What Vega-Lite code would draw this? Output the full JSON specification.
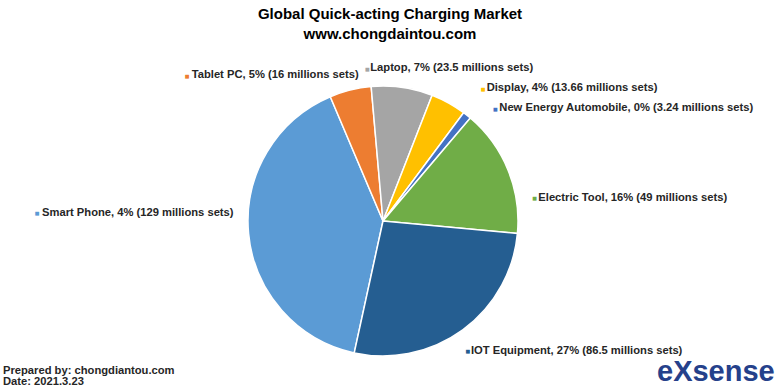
{
  "$schema": "https://vega.github.io/schema/vega-lite/v6.json",
  "autosize": {"type": "none"},
  "width": 766,
  "height": 338,
  "padding": {"top": 52, "left": 0, "right": 14, "bottom": 0},
  "background": "white",
  "config": {"view": {"stroke": null}},
  "title": {
    "text": ["Global Quick-acting Charging Market", "www.chongdaintou.com"],
    "font": "Liberation Sans",
    "fontSize": 15,
    "fontWeight": "bold",
    "color": "#000000",
    "lineHeight": 19.3,
    "anchor": "middle",
    "dx": 7,
    "offset": 8
  },
  "datasets": {
    "market": [
      {"name": "Smart Phone", "value": 129, "idx": 1, "label": "Smart Phone, 4% (129 millions sets)"},
      {"name": "Tablet PC", "value": 16, "idx": 2, "label": "Tablet PC, 5% (16 millions sets)"},
      {"name": "Laptop", "value": 23.5, "idx": 3, "label": "Laptop, 7% (23.5 millions sets)"},
      {"name": "Display", "value": 13.66, "idx": 4, "label": "Display, 4% (13.66 millions sets)"},
      {"name": "New Energy Automobile", "value": 3.24, "idx": 5, "label": "New Energy Automobile, 0% (3.24 millions sets)"},
      {"name": "Electric Tool", "value": 49, "idx": 6, "label": "Electric Tool, 16% (49 millions sets)"},
      {"name": "IOT Equipment", "value": 86.5, "idx": 7, "label": "IOT Equipment, 27% (86.5 millions sets)"}
    ]
  },
  "layer": [
    {
      "data": {"name": "market"},
      "mark": {"type": "arc", "outerRadius": 135, "stroke": "white", "strokeWidth": 1.5},
      "encoding": {
        "theta": {"field": "value", "type": "quantitative", "stack": true, "scale": {"range": [3.3563, 9.6395]}},
        "order": {"field": "idx", "type": "quantitative"},
        "color": {"field": "name", "type": "nominal", "legend": null,
          "scale": {"domain": ["Smart Phone", "Tablet PC", "Laptop", "Display", "New Energy Automobile", "Electric Tool", "IOT Equipment"],
                    "range": ["#5B9BD5", "#ED7D31", "#A5A5A5", "#FFC000", "#4472C4", "#70AD47", "#255E91"]}}
      }
    },
    {
      "data": {"name": "market"},
      "mark": {"type": "text", "radius": 145, "align": "left", "baseline": "middle", "dx": -196.6, "dy": -21.8, "font": "Liberation Sans", "fontSize": 11.2, "fontWeight": "bold", "fill": "#262626"},
      "encoding": {
        "theta": {"field": "value", "type": "quantitative", "stack": true},
        "order": {"field": "idx", "type": "quantitative"},
        "text": {"condition": {"test": "datum.name === 'Smart Phone'", "field": "label"}, "value": ""}
      }
    },
    {
      "data": {"name": "market"},
      "mark": {"type": "text", "radius": 145, "align": "left", "baseline": "middle", "dx": -156.2, "dy": -5.3, "font": "Liberation Sans", "fontSize": 11.2, "fontWeight": "bold", "fill": "#262626"},
      "encoding": {
        "theta": {"field": "value", "type": "quantitative", "stack": true},
        "order": {"field": "idx", "type": "quantitative"},
        "text": {"condition": {"test": "datum.name === 'Tablet PC'", "field": "label"}, "value": ""}
      }
    },
    {
      "data": {"name": "market"},
      "mark": {"type": "text", "radius": 145, "align": "left", "baseline": "middle", "dx": -33.3, "dy": -9.2, "font": "Liberation Sans", "fontSize": 11.2, "fontWeight": "bold", "fill": "#262626"},
      "encoding": {
        "theta": {"field": "value", "type": "quantitative", "stack": true},
        "order": {"field": "idx", "type": "quantitative"},
        "text": {"condition": {"test": "datum.name === 'Laptop'", "field": "label"}, "value": ""}
      }
    },
    {
      "data": {"name": "market"},
      "mark": {"type": "text", "radius": 145, "align": "left", "baseline": "middle", "dx": 33.4, "dy": -5.9, "font": "Liberation Sans", "fontSize": 11.2, "fontWeight": "bold", "fill": "#262626"},
      "encoding": {
        "theta": {"field": "value", "type": "quantitative", "stack": true},
        "order": {"field": "idx", "type": "quantitative"},
        "text": {"condition": {"test": "datum.name === 'Display'", "field": "label"}, "value": ""}
      }
    },
    {
      "data": {"name": "market"},
      "mark": {"type": "text", "radius": 145, "align": "left", "baseline": "middle", "dx": 26.1, "dy": 0.8, "font": "Liberation Sans", "fontSize": 11.2, "fontWeight": "bold", "fill": "#262626"},
      "encoding": {
        "theta": {"field": "value", "type": "quantitative", "stack": true},
        "order": {"field": "idx", "type": "quantitative"},
        "text": {"condition": {"test": "datum.name === 'New Energy Automobile'", "field": "label"}, "value": ""}
      }
    },
    {
      "data": {"name": "market"},
      "mark": {"type": "text", "radius": 145, "align": "left", "baseline": "middle", "dx": 21.1, "dy": 31.5, "font": "Liberation Sans", "fontSize": 11.2, "fontWeight": "bold", "fill": "#262626"},
      "encoding": {
        "theta": {"field": "value", "type": "quantitative", "stack": true},
        "order": {"field": "idx", "type": "quantitative"},
        "text": {"condition": {"test": "datum.name === 'Electric Tool'", "field": "label"}, "value": ""}
      }
    },
    {
      "data": {"name": "market"},
      "mark": {"type": "text", "radius": 145, "align": "left", "baseline": "middle", "dx": 2.3, "dy": 12.7, "font": "Liberation Sans", "fontSize": 11.2, "fontWeight": "bold", "fill": "#262626"},
      "encoding": {
        "theta": {"field": "value", "type": "quantitative", "stack": true},
        "order": {"field": "idx", "type": "quantitative"},
        "text": {"condition": {"test": "datum.name === 'IOT Equipment'", "field": "label"}, "value": ""}
      }
    },
    {
      "data": {"name": "market"},
      "mark": {"type": "text", "radius": 145, "align": "center", "baseline": "middle", "dx": -201.6, "dy": -21.1, "font": "DejaVu Sans", "fontSize": 5},
      "encoding": {
        "theta": {"field": "value", "type": "quantitative", "stack": true},
        "order": {"field": "idx", "type": "quantitative"},
        "color": {"field": "name", "type": "nominal", "legend": null},
        "text": {"condition": {"test": "datum.name === 'Smart Phone'", "value": "■"}, "value": ""}
      }
    },
    {
      "data": {"name": "market"},
      "mark": {"type": "text", "radius": 145, "align": "center", "baseline": "middle", "dx": -160.9, "dy": -4.6, "font": "DejaVu Sans", "fontSize": 5},
      "encoding": {
        "theta": {"field": "value", "type": "quantitative", "stack": true},
        "order": {"field": "idx", "type": "quantitative"},
        "color": {"field": "name", "type": "nominal", "legend": null},
        "text": {"condition": {"test": "datum.name === 'Tablet PC'", "value": "■"}, "value": ""}
      }
    },
    {
      "data": {"name": "market"},
      "mark": {"type": "text", "radius": 145, "align": "center", "baseline": "middle", "dx": -36.3, "dy": -8.5, "font": "DejaVu Sans", "fontSize": 5},
      "encoding": {
        "theta": {"field": "value", "type": "quantitative", "stack": true},
        "order": {"field": "idx", "type": "quantitative"},
        "color": {"field": "name", "type": "nominal", "legend": null},
        "text": {"condition": {"test": "datum.name === 'Laptop'", "value": "■"}, "value": ""}
      }
    },
    {
      "data": {"name": "market"},
      "mark": {"type": "text", "radius": 145, "align": "center", "baseline": "middle", "dx": 29.7, "dy": -5.2, "font": "DejaVu Sans", "fontSize": 5},
      "encoding": {
        "theta": {"field": "value", "type": "quantitative", "stack": true},
        "order": {"field": "idx", "type": "quantitative"},
        "color": {"field": "name", "type": "nominal", "legend": null},
        "text": {"condition": {"test": "datum.name === 'Display'", "value": "■"}, "value": ""}
      }
    },
    {
      "data": {"name": "market"},
      "mark": {"type": "text", "radius": 145, "align": "center", "baseline": "middle", "dx": 22.1, "dy": 1.5, "font": "DejaVu Sans", "fontSize": 5},
      "encoding": {
        "theta": {"field": "value", "type": "quantitative", "stack": true},
        "order": {"field": "idx", "type": "quantitative"},
        "color": {"field": "name", "type": "nominal", "legend": null},
        "text": {"condition": {"test": "datum.name === 'New Energy Automobile'", "value": "■"}, "value": ""}
      }
    },
    {
      "data": {"name": "market"},
      "mark": {"type": "text", "radius": 145, "align": "center", "baseline": "middle", "dx": 17.5, "dy": 32.2, "font": "DejaVu Sans", "fontSize": 5},
      "encoding": {
        "theta": {"field": "value", "type": "quantitative", "stack": true},
        "order": {"field": "idx", "type": "quantitative"},
        "color": {"field": "name", "type": "nominal", "legend": null},
        "text": {"condition": {"test": "datum.name === 'Electric Tool'", "value": "■"}, "value": ""}
      }
    },
    {
      "data": {"name": "market"},
      "mark": {"type": "text", "radius": 145, "align": "center", "baseline": "middle", "dx": -0.7, "dy": 13.4, "font": "DejaVu Sans", "fontSize": 5},
      "encoding": {
        "theta": {"field": "value", "type": "quantitative", "stack": true},
        "order": {"field": "idx", "type": "quantitative"},
        "color": {"field": "name", "type": "nominal", "legend": null},
        "text": {"condition": {"test": "datum.name === 'IOT Equipment'", "value": "■"}, "value": ""}
      }
    },
    {
      "data": {"values": [{"note": "Date: 2021.3.23"}]},
      "mark": {"type": "point", "opacity": 0},
      "encoding": {
        "size": {"field": "note", "type": "nominal", "scale": {"range": [0]},
          "legend": {"orient": "bottom-left", "offset": 3, "padding": 0,
            "title": "Prepared by: chongdiantou.com",
            "titleFont": "Liberation Sans", "titleFontSize": 11.2, "titleFontWeight": "bold", "titleColor": "#262626", "titlePadding": 5.5,
            "labelFont": "Liberation Sans", "labelFontSize": 11.2, "labelFontWeight": "bold", "labelColor": "#262626",
            "symbolOpacity": 0, "symbolStrokeWidth": 0, "labelOffset": 0}}
      }
    },
    {
      "data": {"values": [{"logo": "eXsense"}]},
      "mark": {"type": "point", "opacity": 0, "size": 0},
      "encoding": {
        "shape": {"field": "logo", "type": "nominal", "scale": {"range": ["circle"]},
          "legend": {"orient": "bottom-right", "offset": -9, "padding": 0,
            "title": "eXsense",
            "titleFont": "Liberation Sans", "titleFontSize": 29, "titleFontWeight": "bold", "titleColor": "#25418b", "titlePadding": 11,
            "labelFontSize": 1, "labelExpr": "''",
            "symbolSize": 0, "symbolOpacity": 0, "symbolStrokeWidth": 0, "labelOffset": 0}}
      }
    }
  ]
}
